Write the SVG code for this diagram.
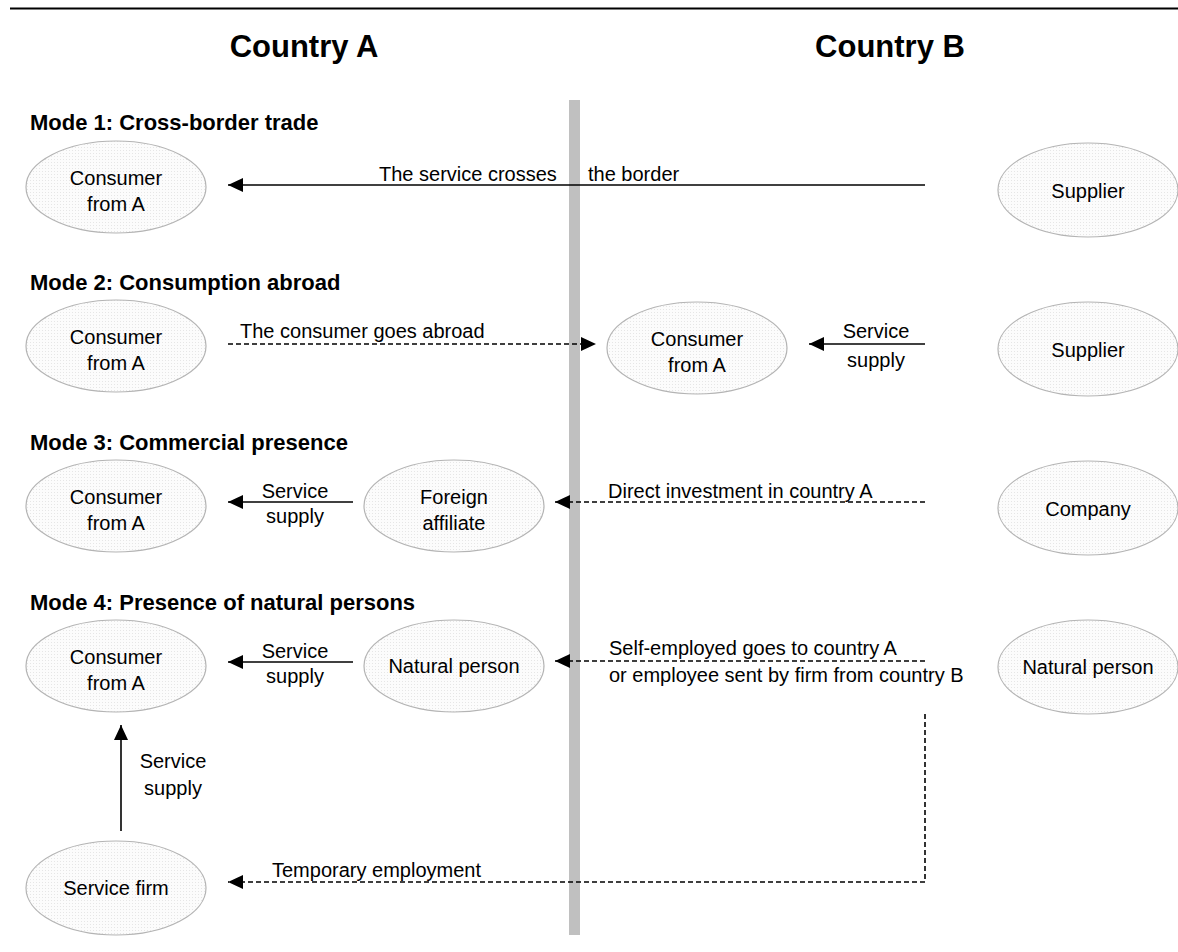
<svg xmlns="http://www.w3.org/2000/svg" width="1178" height="952" viewBox="0 0 1178 952">
<style>
.hd{font-family:"Liberation Sans",Arial,sans-serif;font-weight:bold;font-size:31px;fill:#000;text-anchor:middle}
.md{font-family:"Liberation Sans",Arial,sans-serif;font-weight:bold;font-size:22px;fill:#000}
.t{font-family:"Liberation Sans",Arial,sans-serif;font-size:20px;fill:#000}
.c{text-anchor:middle}
.nd{fill:url(#dots);stroke:#b4b4b4;stroke-width:1.2}
.ln{fill:none;stroke:#000;stroke-width:1.6}
.ds{stroke-dasharray:5 3}
</style>
<defs>
<pattern id="dots" width="3" height="3" patternUnits="userSpaceOnUse">
<rect width="3" height="3" fill="#fcfcfc"/>
<rect width="1" height="1" fill="#e6e6e6"/>
</pattern>
<marker id="ah" markerWidth="16" markerHeight="14" refX="15" refY="7" orient="auto" markerUnits="userSpaceOnUse">
<path d="M0,0 L15,7 L0,14 Z" fill="#000"/>
</marker>
</defs>
<rect width="1178" height="952" fill="#fff"/>
<line x1="10" y1="8.5" x2="1178" y2="8.5" stroke="#000" stroke-width="2"/>
<text class="hd" x="304" y="57">Country A</text>
<text class="hd" x="890" y="57">Country B</text>
<rect id="border" x="569" y="100" width="11" height="835" fill="#c0c0c0"/>
<text class="md" x="30" y="130">Mode 1: Cross-border trade</text>
<text class="md" x="30" y="290">Mode 2: Consumption abroad</text>
<text class="md" x="30" y="450">Mode 3: Commercial presence</text>
<text class="md" x="30" y="610">Mode 4: Presence of natural persons</text>

<g id="connectors">
<line class="ln" x1="925" y1="185" x2="228" y2="185" marker-end="url(#ah)"/>
<text class="t" x="379" y="181">The service crosses</text>
<text class="t" x="588" y="181">the border</text>

<line class="ln ds" x1="228" y1="344" x2="596" y2="344" marker-end="url(#ah)"/>
<text class="t" x="240" y="338">The consumer goes abroad</text>
<line class="ln" x1="925" y1="344" x2="809" y2="344" marker-end="url(#ah)"/>
<text class="t c" x="876" y="338">Service</text>
<text class="t c" x="876" y="367">supply</text>

<line class="ln" x1="353" y1="502" x2="228" y2="502" marker-end="url(#ah)"/>
<text class="t c" x="295" y="498">Service</text>
<text class="t c" x="295" y="523">supply</text>
<line class="ln ds" x1="925" y1="502" x2="555" y2="502" marker-end="url(#ah)"/>
<text class="t" x="608" y="498">Direct investment in country A</text>

<line class="ln" x1="353" y1="662" x2="228" y2="662" marker-end="url(#ah)"/>
<text class="t c" x="295" y="658">Service</text>
<text class="t c" x="295" y="683">supply</text>
<line class="ln ds" x1="925" y1="661" x2="555" y2="661" marker-end="url(#ah)"/>
<text class="t" x="609" y="655">Self-employed goes to country A</text>
<text class="t" x="609" y="682">or employee sent by firm from country B</text>

<line class="ln" x1="121" y1="831" x2="121" y2="725" marker-end="url(#ah)"/>
<text class="t c" x="173" y="768">Service</text>
<text class="t c" x="173" y="795">supply</text>

<path class="ln ds" d="M925,714 L925,882 L228,882" marker-end="url(#ah)"/>
<text class="t" x="272" y="877">Temporary employment</text>
</g>

<g id="m1-consumer"><ellipse class="nd" cx="116" cy="187" rx="90" ry="46"/><text class="t c" x="116" y="185">Consumer</text><text class="t c" x="116" y="211">from A</text></g>
<g id="m1-supplier"><ellipse class="nd" cx="1088" cy="190" rx="90" ry="47"/><text class="t c" x="1088" y="198">Supplier</text></g>

<g id="m2-consumer-a"><ellipse class="nd" cx="116" cy="346" rx="90" ry="46"/><text class="t c" x="116" y="344">Consumer</text><text class="t c" x="116" y="370">from A</text></g>
<g id="m2-consumer-b"><ellipse class="nd" cx="697" cy="348" rx="90" ry="46"/><text class="t c" x="697" y="346">Consumer</text><text class="t c" x="697" y="372">from A</text></g>
<g id="m2-supplier"><ellipse class="nd" cx="1088" cy="349" rx="90" ry="47"/><text class="t c" x="1088" y="357">Supplier</text></g>

<g id="m3-consumer"><ellipse class="nd" cx="116" cy="506" rx="90" ry="46"/><text class="t c" x="116" y="504">Consumer</text><text class="t c" x="116" y="530">from A</text></g>
<g id="m3-affiliate"><ellipse class="nd" cx="454" cy="506" rx="90" ry="46"/><text class="t c" x="454" y="504">Foreign</text><text class="t c" x="454" y="530">affiliate</text></g>
<g id="m3-company"><ellipse class="nd" cx="1088" cy="508" rx="90" ry="47"/><text class="t c" x="1088" y="516">Company</text></g>

<g id="m4-consumer"><ellipse class="nd" cx="116" cy="666" rx="90" ry="46"/><text class="t c" x="116" y="664">Consumer</text><text class="t c" x="116" y="690">from A</text></g>
<g id="m4-natural-a"><ellipse class="nd" cx="454" cy="666" rx="90" ry="46"/><text class="t c" x="454" y="673">Natural person</text></g>
<g id="m4-natural-b"><ellipse class="nd" cx="1088" cy="667" rx="90" ry="47"/><text class="t c" x="1088" y="674">Natural person</text></g>

<g id="service-firm"><ellipse class="nd" cx="116" cy="888" rx="90" ry="47"/><text class="t c" x="116" y="895">Service firm</text></g>
</svg>
